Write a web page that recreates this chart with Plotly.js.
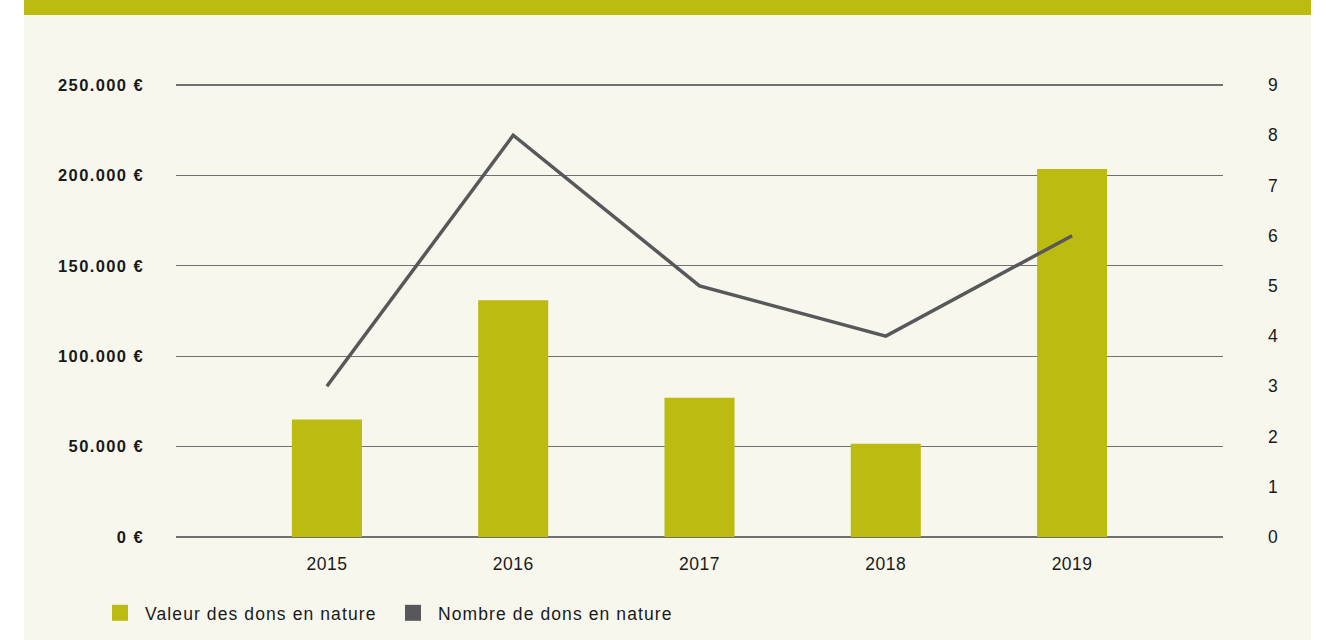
<!DOCTYPE html>
<html>
<head>
<meta charset="utf-8">
<script src="https://cdn.plot.ly/plotly-3.0.1.min.js"></script>
<style>
html,body{margin:0;padding:0;background:#fff;}
#chart{width:1326px;height:640px;}
#chart .ytick text{letter-spacing:1.4px;}
#chart .xtick text{letter-spacing:0.5px;}
#chart .y2tick text{letter-spacing:0.4px;}
#chart .legendtext{letter-spacing:1.1px;}
</style>
</head>
<body>
<div id="chart"></div>
<script>
const years = ['2015', '2016', '2017', '2018', '2019'];
const valeurDons = [65000, 131000, 77000, 51500, 203500];
const nombreDons = [3, 8, 5, 4, 6];
const leftTickVals = [0, 50000, 100000, 150000, 200000, 250000];
const leftTickText = ['0 €', '50.000 €', '100.000 €', '150.000 €', '200.000 €', '250.000 €'];
const rightTickVals = [0, 1, 2, 3, 4, 5, 6, 7, 8, 9];
const seriesNames = ['Valeur des dons en nature', 'Nombre de dons en nature'];

const green = '#bcbb11';
const grey = '#58585a';
const cream = '#f7f7ed';
const font = 'Liberation Sans, Arial, sans-serif';

// axis geometry: 0 at y=537px, 250000 at y=85px; range padded so edge gridlines are drawn
const pad = 5000;
const pxPerUnit = 452 / 250000;
const padPx = pad * pxPerUnit;
const plotTop = 85 - padPx, plotBottom = 537 + padPx, plotH = plotBottom - plotTop;
const plotLeft = 176, plotRight = 1223, plotW = plotRight - plotLeft;
const px2x = p => (p - plotLeft) / plotW;
const py2y = p => (plotBottom - p) / plotH;

const traces = [
  {type: 'bar', x: years, y: valeurDons, marker: {color: green}, width: 0.376,
   showlegend: false, hoverinfo: 'skip', yaxis: 'y'},
  {type: 'scatter', mode: 'lines', x: years, y: nombreDons, yaxis: 'y2',
   line: {color: grey, width: 3.5}, showlegend: false, hoverinfo: 'skip'},
  {type: 'scatter', mode: 'markers', x: [null], y: [null], name: seriesNames[0],
   marker: {symbol: 'square', size: 18, color: green}},
  {type: 'scatter', mode: 'markers', x: [null], y: [null], name: seriesNames[1], yaxis: 'y2',
   marker: {symbol: 'square', size: 18, color: grey}}
];

const layout = {
  width: 1326, height: 640,
  paper_bgcolor: '#ffffff', plot_bgcolor: 'rgba(0,0,0,0)',
  margin: {l: plotLeft, r: 1326 - plotRight, t: plotTop, b: 640 - plotBottom, autoexpand: false},
  font: {family: font, color: '#1a1a1a', size: 17},
  xaxis: {type: 'category', range: [-0.81, 4.81], showgrid: false, zeroline: false,
    showline: false, ticks: '', tickfont: {size: 17.5, color: '#1a1a1a'}, ticklabelstandoff: 5, fixedrange: true},
  yaxis: {range: [-pad, 250000 + pad], tickvals: leftTickVals, ticktext: leftTickText,
    showgrid: true, gridcolor: '#707070', gridwidth: 1.3, zeroline: false, showline: false,
    ticks: '', tickfont: {size: 16.5, color: '#1a1a1a', weight: 'bold'}, ticklabelstandoff: 31, fixedrange: true},
  yaxis2: {range: [-pad * 9 / 250000, 9 + pad * 9 / 250000], overlaying: 'y', side: 'right', tickvals: rightTickVals,
    showgrid: false, zeroline: false, showline: false, ticks: '',
    tickfont: {size: 17.5, color: '#1a1a1a'}, ticklabelstandoff: 44, fixedrange: true},
  legend: {orientation: 'h', x: px2x(95), xanchor: 'left', y: py2y(613), yanchor: 'middle',
    font: {size: 17.5, color: '#1a1a1a'}, bgcolor: 'rgba(0,0,0,0)', itemwidth: 40,
    entrywidth: 238, entrywidthmode: 'pixels', itemclick: false, itemdoubleclick: false},
  shapes: [
    {type: 'rect', xref: 'paper', yref: 'paper', layer: 'below',
     x0: px2x(24), x1: px2x(1311), y0: py2y(640), y1: py2y(15),
     fillcolor: cream, line: {width: 0}},
    {type: 'rect', xref: 'paper', yref: 'paper', layer: 'below',
     x0: px2x(24), x1: px2x(1311), y0: py2y(15), y1: py2y(-5),
     fillcolor: '#bcbb0f', line: {width: 0}}
  ]
};

Plotly.newPlot('chart', traces, layout, {displayModeBar: false, staticPlot: true});
</script>
</body>
</html>
